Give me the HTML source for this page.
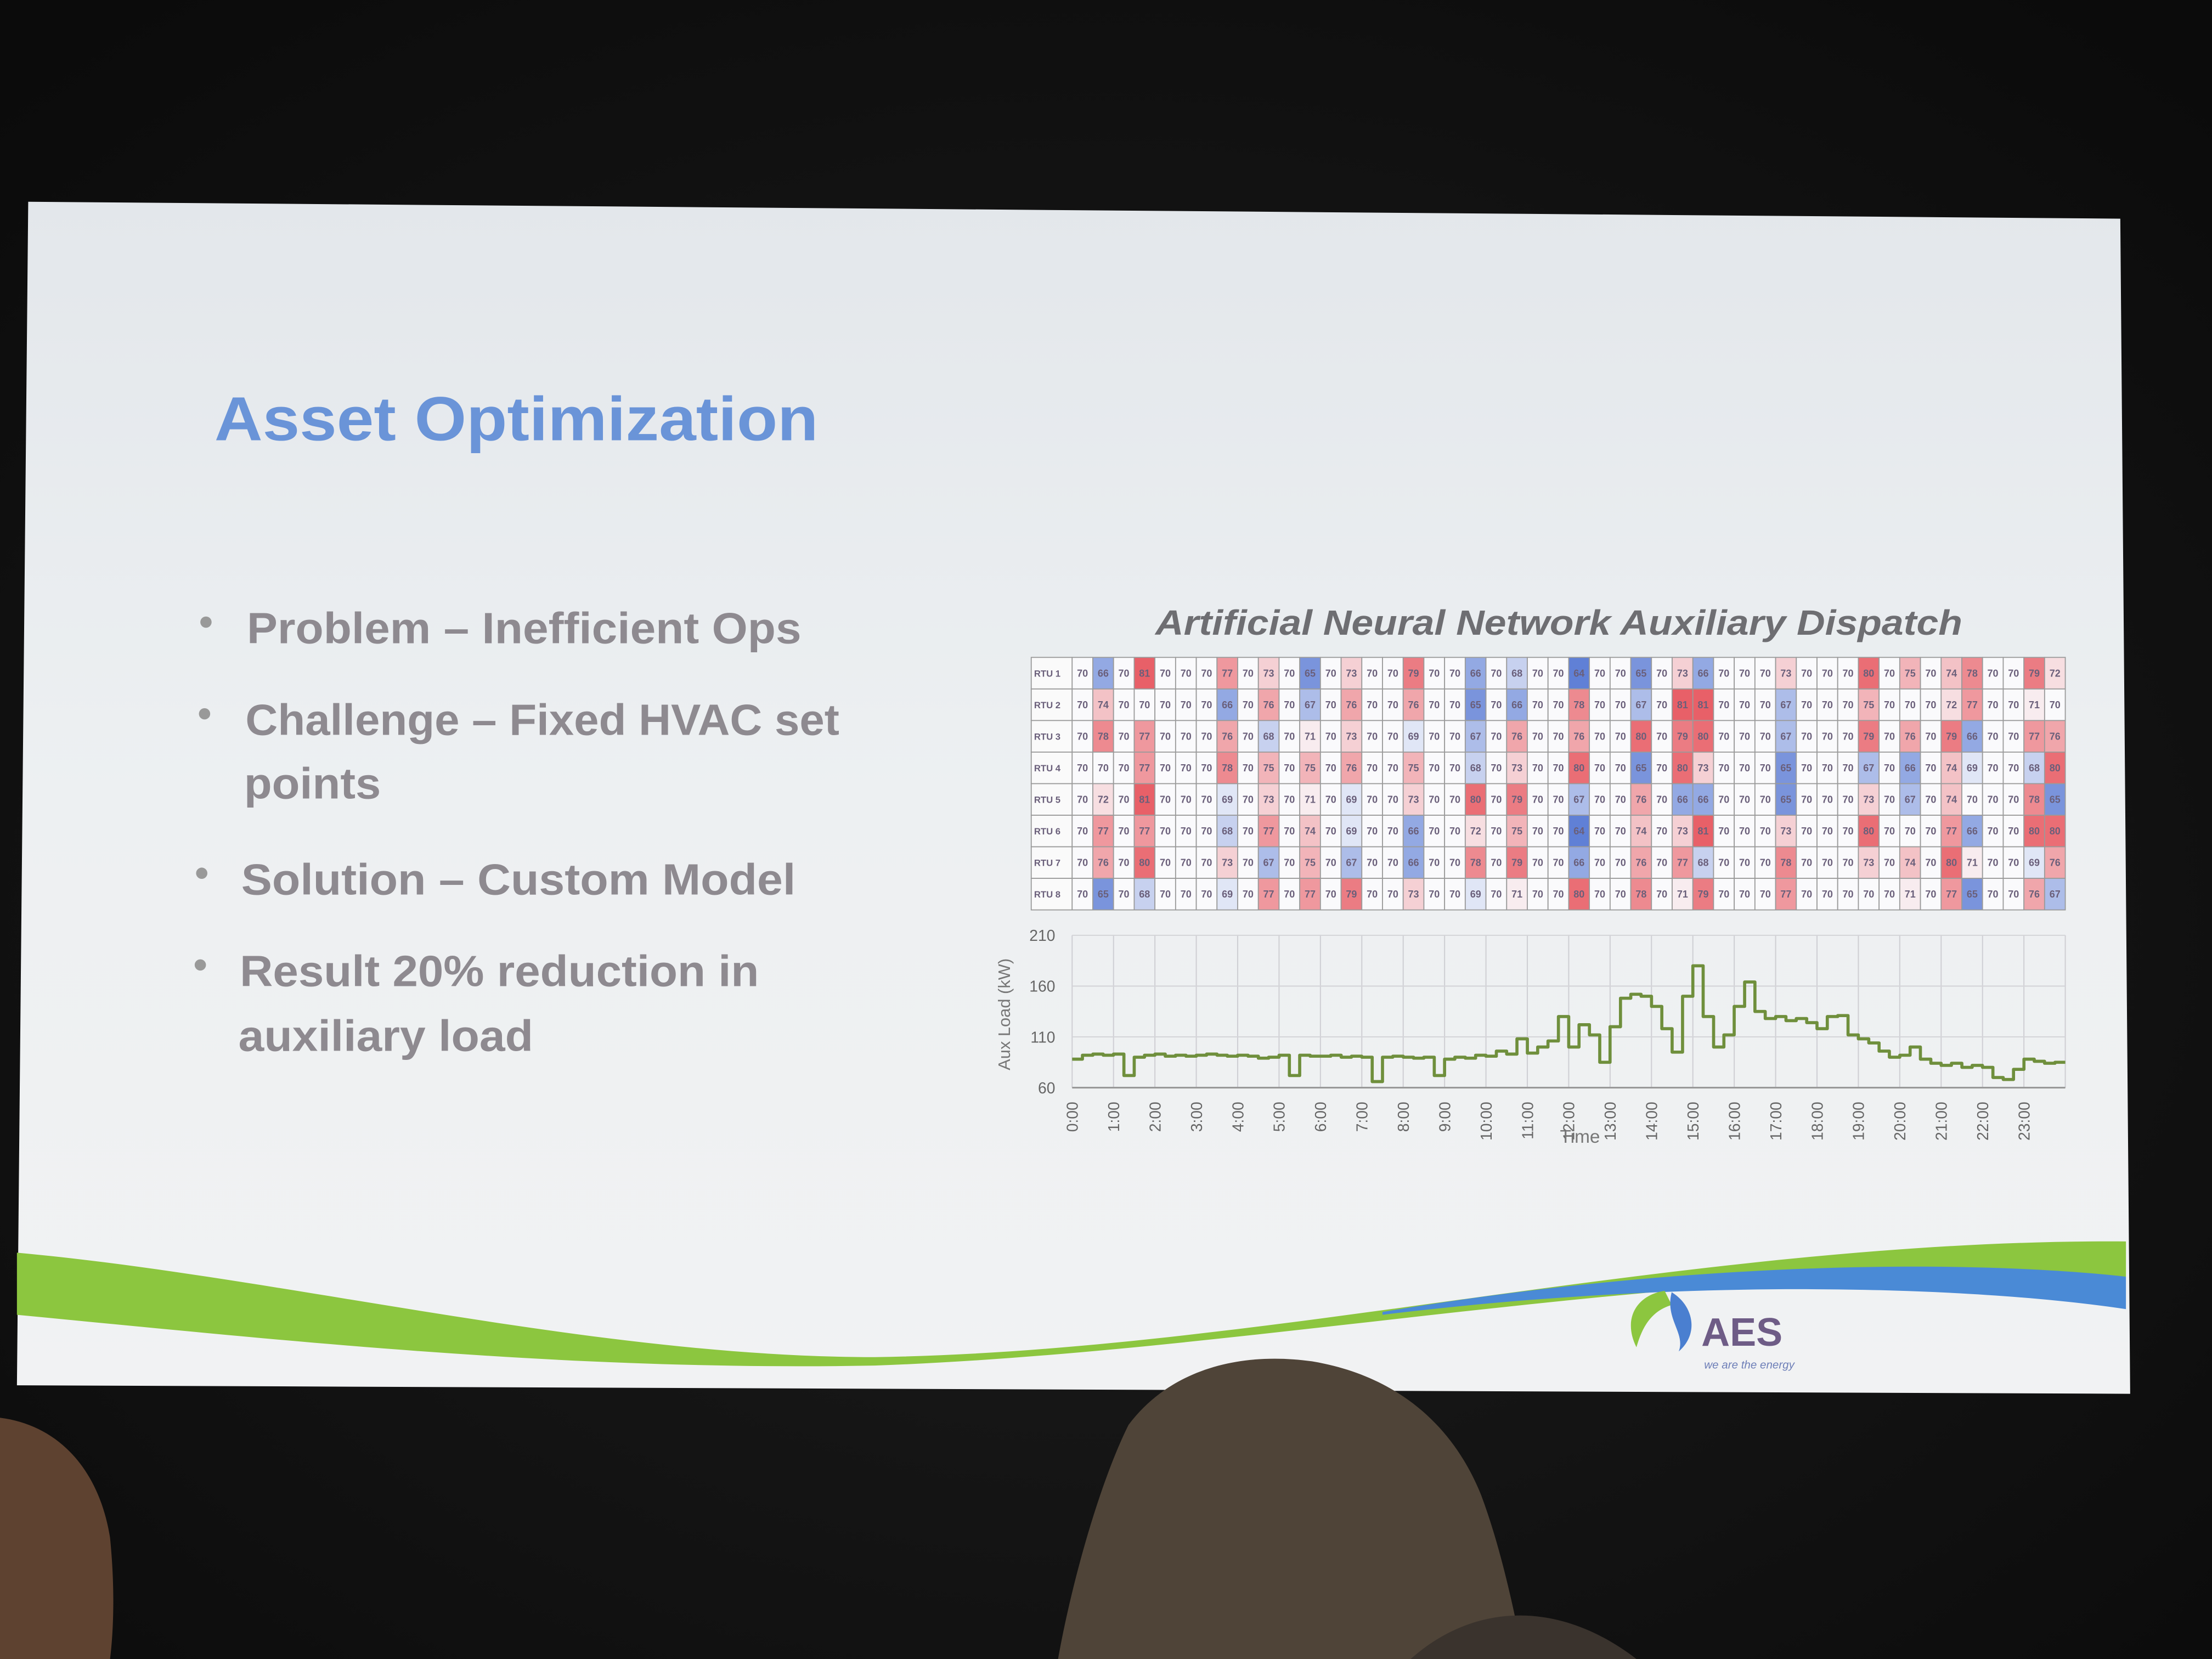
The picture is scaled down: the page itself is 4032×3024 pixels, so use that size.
<!DOCTYPE html>
<html><head><meta charset="utf-8"><title>Asset Optimization</title>
<style>html,body{margin:0;padding:0;background:#111;}svg{display:block;}</style></head>
<body>
<svg id="root" xmlns="http://www.w3.org/2000/svg" width="4032" height="3024" viewBox="0 0 1568 1176" font-family="'Liberation Sans', sans-serif">
<defs>
<radialGradient id="bg" cx="50%" cy="55%" r="70%"><stop offset="0" stop-color="#1e1e1e"/><stop offset="1" stop-color="#0b0b0b"/></radialGradient>
<linearGradient id="sl" x1="0" y1="0" x2="0" y2="1"><stop offset="0" stop-color="#e3e7eb"/><stop offset="0.5" stop-color="#edf0f2"/><stop offset="1" stop-color="#f1f2f3"/></linearGradient>
</defs>
<rect x="0" y="0" width="1568" height="1176" fill="url(#bg)"/>
<polygon points="20,143 1503,155 1510,988 12,982" fill="url(#sl)"/>
<path d="M12,888 C200,905 420,962 620,962 C900,958 1200,878 1507,880 L1507,905 C1200,892 900,958 620,968 C400,972 200,950 12,932 Z" fill="#8cc63f"/>
<path d="M980,930 C1200,893 1400,893 1507,905 L1507,928 C1400,912 1200,905 980,932 Z" fill="#4a8ad6"/>
<text x="152" y="312" font-size="44" font-weight="bold" fill="#6a94d8" textLength="428" lengthAdjust="spacingAndGlyphs">Asset Optimization</text>
<g font-size="31" font-weight="bold" fill="#8e8a90">
<circle cx="146" cy="441" r="4" fill="#999"/><text x="175" y="456" textLength="393" lengthAdjust="spacingAndGlyphs">Problem – Inefficient Ops</text>
<circle cx="145" cy="506" r="4" fill="#999"/><text x="174" y="521" textLength="421" lengthAdjust="spacingAndGlyphs">Challenge – Fixed HVAC set</text>
<text x="173" y="566" textLength="97" lengthAdjust="spacingAndGlyphs">points</text>
<circle cx="143" cy="619" r="4" fill="#999"/><text x="171" y="634" textLength="393" lengthAdjust="spacingAndGlyphs">Solution – Custom Model</text>
<circle cx="142" cy="684" r="4" fill="#999"/><text x="170" y="699" textLength="368" lengthAdjust="spacingAndGlyphs">Result 20% reduction in</text>
<text x="169" y="745" textLength="209" lengthAdjust="spacingAndGlyphs">auxiliary load</text>
</g>
<text x="1105" y="450" text-anchor="middle" font-size="25" font-weight="bold" font-style="italic" fill="#6e6e72" textLength="572" lengthAdjust="spacingAndGlyphs">Artificial Neural Network Auxiliary Dispatch</text>
<g id="heatmap"></g>
<g id="linechart"></g>
<g>
<path d="M1180,915 C1160,918 1150,935 1160,955 C1163,945 1168,930 1185,925 Z" fill="#8cc63f"/>
<path d="M1185,916 C1200,925 1205,945 1190,958 C1195,945 1180,935 1185,916 Z" fill="#4a7fd0"/>
<text x="1206" y="954" font-size="28" fill="#6e5c86" font-weight="bold">AES</text>
<text x="1208" y="970" font-size="8" font-style="italic" fill="#6e7fb8">we are the energy</text>
</g>
<path d="M750,1176 C760,1120 780,1050 800,1010 C830,970 880,958 930,965 C990,975 1030,1010 1050,1060 C1065,1100 1075,1150 1080,1176 Z" fill="#4f4438"/>
<path d="M0,1005 C40,1010 70,1040 78,1090 C82,1130 80,1160 78,1176 L0,1176 Z" fill="#5e4230"/>
<path d="M1000,1176 C1040,1140 1100,1130 1160,1176 Z" fill="#3a332d"/>
</svg>
<script>
const rtuLabels = ["RTU 1","RTU 2","RTU 3","RTU 4","RTU 5","RTU 6","RTU 7","RTU 8"];
const rtu1 = [70,66,70,81,70,70,70,77,70,73,70,65,70,73,70,70,79,70,70,66,70,68,70,70,64,70,70,65,70,73,66,70,70,70,73,70,70,70,80,70,75,70,74,78,70,70,79,72];
const rtu2 = [70,74,70,70,70,70,70,66,70,76,70,67,70,76,70,70,76,70,70,65,70,66,70,70,78,70,70,67,70,81,81,70,70,70,67,70,70,70,75,70,70,70,72,77,70,70,71,70];
const rtu3 = [70,78,70,77,70,70,70,76,70,68,70,71,70,73,70,70,69,70,70,67,70,76,70,70,76,70,70,80,70,79,80,70,70,70,67,70,70,70,79,70,76,70,79,66,70,70,77,76];
const rtu4 = [70,70,70,77,70,70,70,78,70,75,70,75,70,76,70,70,75,70,70,68,70,73,70,70,80,70,70,65,70,80,73,70,70,70,65,70,70,70,67,70,66,70,74,69,70,70,68,80];
const rtu5 = [70,72,70,81,70,70,70,69,70,73,70,71,70,69,70,70,73,70,70,80,70,79,70,70,67,70,70,76,70,66,66,70,70,70,65,70,70,70,73,70,67,70,74,70,70,70,78,65];
const rtu6 = [70,77,70,77,70,70,70,68,70,77,70,74,70,69,70,70,66,70,70,72,70,75,70,70,64,70,70,74,70,73,81,70,70,70,73,70,70,70,80,70,70,70,77,66,70,70,80,80];
const rtu7 = [70,76,70,80,70,70,70,73,70,67,70,75,70,67,70,70,66,70,70,78,70,79,70,70,66,70,70,76,70,77,68,70,70,70,78,70,70,70,73,70,74,70,80,71,70,70,69,76];
const rtu8 = [70,65,70,68,70,70,70,69,70,77,70,77,70,79,70,70,73,70,70,69,70,71,70,70,80,70,70,78,70,71,79,70,70,70,77,70,70,70,70,70,71,70,77,65,70,70,76,67];
const yTicks = [60,110,160,210];
const hourLabels = ["0:00","1:00","2:00","3:00","4:00","5:00","6:00","7:00","8:00","9:00","10:00","11:00","12:00","13:00","14:00","15:00","16:00","17:00","18:00","19:00","20:00","21:00","22:00","23:00"];
const auxLoad = [88,92,93,92, 93,72,90,92, 93,91,92,91, 92,93,92,91, 92,91,89,90, 92,72,92,91, 91,92,90,91, 90,66,90,91, 90,89,90,72, 88,90,89,92, 91,96,93,108, 94,100,106,130, 100,122,112,85, 120,148,152,150, 140,118,95,150, 180,130,100,112, 140,164,135,128, 130,126,128,124, 118,130,131,112, 108,104,96,90, 92,100,88,84, 82,84,80,82, 80,70,68,78, 88,86,84,85];

const NS="http://www.w3.org/2000/svg";
function mk(tag, attrs, parent){const e=document.createElementNS(NS,tag);for(const k in attrs)e.setAttribute(k,attrs[k]);parent.appendChild(e);return e;}
function lerp(a,b,t){return Math.round(a+(b-a)*t);}
function cellColor(v){
  if(v>=70){const t=Math.min(1,(v-70)/11);return `rgb(${lerp(250,232,t)},${lerp(250,96,t)},${lerp(252,104,t)})`;}
  const t=Math.min(1,(70-v)/6);return `rgb(${lerp(250,96,t)},${lerp(250,128,t)},${lerp(252,214,t)})`;
}
// heatmap
const hm=document.getElementById('heatmap');
const rows=[rtu1,rtu2,rtu3,rtu4,rtu5,rtu6,rtu7,rtu8];
const hx0=731, hxCells=760, hx1=1464, hy0=466, hy1=645;
const cw=(hx1-hxCells)/48, rh=(hy1-hy0)/rows.length;
rows.forEach((row,r)=>{
  const y=hy0+r*rh;
  const lab=mk('rect',{x:hx0,y:y,width:hxCells-hx0,height:rh,fill:'#fafafa',stroke:'#999','stroke-width':0.7},hm);
  
  
  const lt=mk('text',{x:hx0+2,y:y+rh/2+2.5,'font-size':6.5,'font-weight':'bold',fill:'#6a5f7a'},hm);
  lt.textContent=rtuLabels[r];
  
  
  row.forEach((v,c)=>{
    const x=hxCells+c*cw;
    const rc=mk('rect',{x:x,y:y,width:cw,height:rh,fill:cellColor(v),stroke:'#9a9a9a','stroke-width':0.7},hm);
    
    
    const t=mk('text',{x:x+cw/2,y:y+rh/2+2.5,'font-size':7,'font-weight':'bold','text-anchor':'middle',fill:'#6a5f7a'},hm);
    t.textContent=v;
    
    
  });
});
// line chart
const lc=document.getElementById('linechart');
const px0=760, px1=1464, pyTop=663, pyBot=771;
const xs=h=>px0+(px1-px0)*h/24;
const ys=v=>pyBot-(v-60)/(210-60)*(pyBot-pyTop);
hourLabels.forEach((lab,i)=>{
  const gl=mk('line',{x1:xs(i),x2:xs(i),y1:pyTop,y2:pyBot,stroke:'#cfcfd4','stroke-width':0.8},lc);
  
  
  const t=mk('text',{x:0,y:0,'font-size':11,fill:'#666','text-anchor':'end',transform:`translate(${xs(i)+4},${pyBot+10}) rotate(-90)`},lc);
  t.textContent=lab;
  
  
});
const rl=mk('line',{x1:px1,x2:px1,y1:pyTop,y2:pyBot,stroke:'#cfcfd4','stroke-width':0.8},lc);


yTicks.forEach(v=>{
  const gl=mk('line',{x1:px0,x2:px1,y1:ys(v),y2:ys(v),stroke:v===60?'#999':'#d4d4d8','stroke-width':v===60?1.2:0.8},lc);
  
  
  const t=mk('text',{x:748,y:ys(v)+4,'font-size':11,fill:'#666','text-anchor':'end'},lc);
  t.textContent=v;
  
  
});
const yt=mk('text',{x:0,y:0,'font-size':12,fill:'#777','text-anchor':'middle',transform:'translate(716,719) rotate(-90)'},lc);
yt.textContent='Aux Load (kW)';


const xt=mk('text',{x:1120,y:810,'font-size':13,fill:'#777','text-anchor':'middle'},lc);
xt.textContent='Time';


let d='';
auxLoad.forEach((v,i)=>{const h0=i*24/auxLoad.length,h1=(i+1)*24/auxLoad.length;d+=(i?'L':'M')+xs(h0).toFixed(1)+','+ys(v).toFixed(1)+'L'+xs(h1).toFixed(1)+','+ys(v).toFixed(1);});
const ln=mk('path',{d:d,fill:'none',stroke:'#6f8f3c','stroke-width':2.2,'stroke-linejoin':'round'},lc);


</script>
</body></html>
